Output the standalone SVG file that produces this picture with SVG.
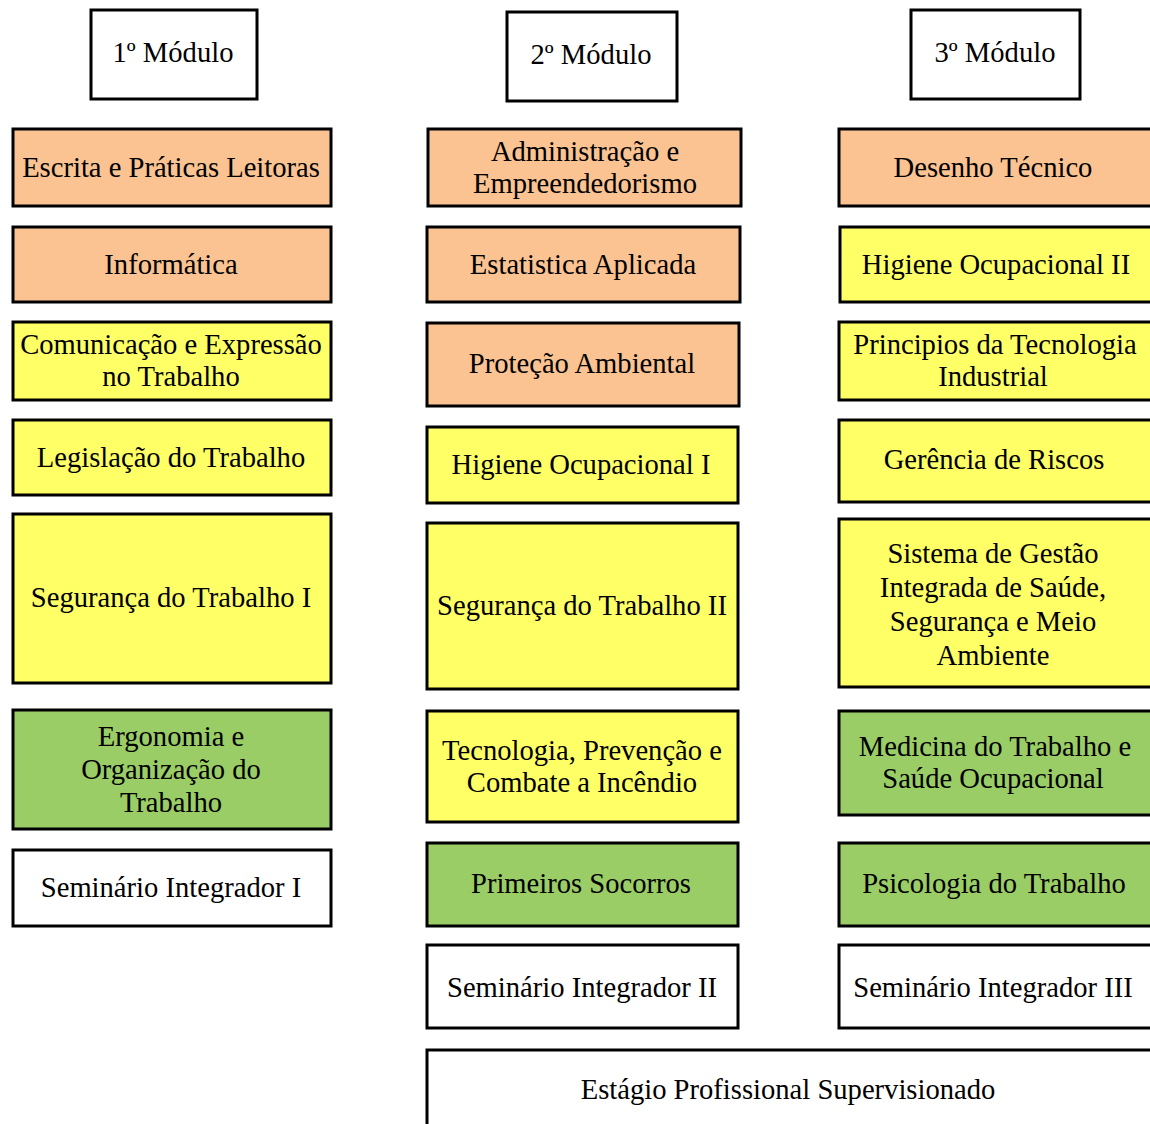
<svg xmlns="http://www.w3.org/2000/svg" width="1150" height="1124" viewBox="0 0 1150 1124">
<style>
rect{stroke:#000;stroke-width:3}
.w{fill:#fff}.o{fill:#FAC391}.y{fill:#FFFF66}.g{fill:#9ACD66}
text{font-family:"Liberation Serif","Times New Roman",serif;font-size:28.6px;fill:#000;text-anchor:middle}
</style>
<rect x="0" y="0" width="1150" height="1124" style="fill:#fff;stroke:none"/>
<g id="connectors"></g>
<g id="m1"><rect class="w" x="91" y="10" width="166" height="89"/><text x="173" y="62">1º Módulo</text></g>
<g id="m2"><rect class="w" x="507" y="12" width="170" height="89"/><text x="591" y="64">2º Módulo</text></g>
<g id="m3"><rect class="w" x="911" y="10" width="169" height="89"/><text x="995" y="62">3º Módulo</text></g>

<g id="c1a"><rect class="o" x="13" y="129" width="318" height="77"/><text x="171" y="177">Escrita e Práticas Leitoras</text></g>
<g id="c1b"><rect class="o" x="13" y="227" width="318" height="75"/><text x="171" y="274">Informática</text></g>
<g id="c1c"><rect class="y" x="13" y="322" width="318" height="78"/><text x="171" y="354">Comunicação e Expressão</text><text x="171" y="386">no Trabalho</text></g>
<g id="c1d"><rect class="y" x="13" y="420" width="318" height="75"/><text x="171" y="467">Legislação do Trabalho</text></g>
<g id="c1e"><rect class="y" x="13" y="514" width="318" height="169"/><text x="171" y="607">Segurança do Trabalho I</text></g>
<g id="c1f"><rect class="g" x="13" y="710" width="318" height="119"/><text x="171" y="746">Ergonomia e</text><text x="171" y="779">Organização do</text><text x="171" y="812">Trabalho</text></g>
<g id="c1g"><rect class="w" x="13" y="850" width="318" height="76"/><text x="171" y="897">Seminário Integrador I</text></g>

<g id="c2a"><rect class="o" x="428" y="129" width="313" height="77"/><text x="585" y="161">Administração e</text><text x="585" y="193">Empreendedorismo</text></g>
<g id="c2b"><rect class="o" x="427" y="227" width="313" height="75"/><text x="583" y="274">Estatistica Aplicada</text></g>
<g id="c2c"><rect class="o" x="427" y="323" width="312" height="83"/><text x="582" y="373">Proteção Ambiental</text></g>
<g id="c2d"><rect class="y" x="427" y="427" width="311" height="76"/><text x="581" y="474">Higiene Ocupacional I</text></g>
<g id="c2e"><rect class="y" x="427" y="523" width="311" height="166"/><text x="582" y="615">Segurança do Trabalho II</text></g>
<g id="c2f"><rect class="y" x="427" y="711" width="311" height="111"/><text x="582" y="760">Tecnologia, Prevenção e</text><text x="582" y="792">Combate a Incêndio</text></g>
<g id="c2g"><rect class="g" x="427" y="843" width="311" height="83"/><text x="581" y="893">Primeiros Socorros</text></g>
<g id="c2h"><rect class="w" x="427" y="945" width="311" height="83"/><text x="582" y="997">Seminário Integrador II</text></g>

<g id="c3a"><rect class="o" x="839" y="129" width="313" height="77"/><text x="993" y="177">Desenho Técnico</text></g>
<g id="c3b"><rect class="y" x="840" y="227" width="312" height="75"/><text x="996" y="274">Higiene Ocupacional II</text></g>
<g id="c3c"><rect class="y" x="839" y="322" width="313" height="78"/><text x="995" y="354">Principios da Tecnologia</text><text x="993" y="386">Industrial</text></g>
<g id="c3d"><rect class="y" x="839" y="420" width="313" height="82"/><text x="994" y="469">Gerência de Riscos</text></g>
<g id="c3e"><rect class="y" x="839" y="519" width="313" height="168"/><text x="993" y="563">Sistema de Gestão</text><text x="993" y="597">Integrada de Saúde,</text><text x="993" y="631">Segurança e Meio</text><text x="993" y="665">Ambiente</text></g>
<g id="c3f"><rect class="g" x="839" y="711" width="313" height="104"/><text x="995" y="756">Medicina do Trabalho e</text><text x="993" y="788">Saúde Ocupacional</text></g>
<g id="c3g"><rect class="g" x="839" y="843" width="313" height="83"/><text x="994" y="893">Psicologia do Trabalho</text></g>
<g id="c3h"><rect class="w" x="839" y="945" width="313" height="83"/><text x="993" y="997">Seminário Integrador III</text></g>

<g id="estagio"><rect class="w" x="427" y="1050" width="725" height="80"/><text x="788" y="1099">Estágio Profissional Supervisionado</text></g>
</svg>
